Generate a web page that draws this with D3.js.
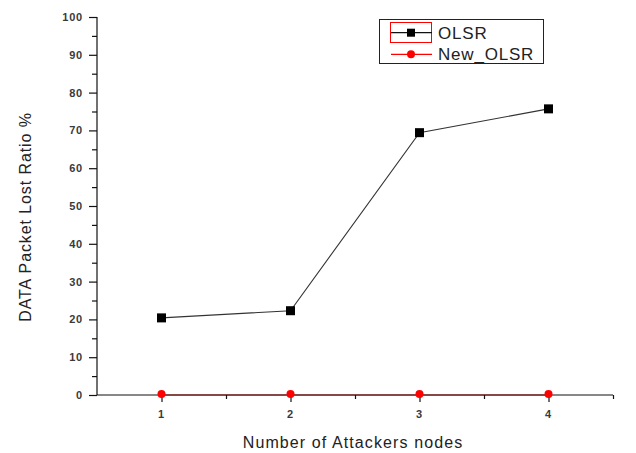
<!DOCTYPE html>
<html>
<head>
<meta charset="utf-8">
<script src="https://cdn.jsdelivr.net/npm/d3@7"></script>
<style>
  body { margin: 0; background: #fff; }
  svg { display: block; }
  text { font-family: "Liberation Sans", Arial, sans-serif; }
</style>
</head>
<body>
<svg id="chart" width="636" height="453"></svg>
<script>
const categories = [1, 2, 3, 4];
const olsrValues = [20.4, 22.3, 69.4, 75.7];
const newOlsrValues = [0, 0, 0, 0];
const yTickValues = [0, 10, 20, 30, 40, 50, 60, 70, 80, 90, 100];
const seriesNames = ["OLSR", "New_OLSR"];

const svg = d3.select("#chart");
const W = 636, H = 453;
svg.append("rect").attr("width", W).attr("height", H).attr("fill", "#fff");

const x = d3.scaleLinear().domain([0.5, 4.5]).range([97, 613]);
const y = d3.scaleLinear().domain([0, 100]).range([395, 17]);

const line = d3.line().x((d, i) => x(categories[i])).y(d => y(d));

svg.append("path").datum(olsrValues)
  .attr("fill", "none").attr("stroke", "#333").attr("stroke-width", 1.1)
  .attr("d", line);

svg.append("path").datum(newOlsrValues)
  .attr("fill", "none").attr("stroke", "#ff0000").attr("stroke-width", 1.2)
  .attr("d", line);

const yAxis = d3.axisLeft(y).tickValues(yTickValues).tickSize(8).tickPadding(6).tickFormat(d3.format("d"));
const yMinor = d3.axisLeft(y).tickValues(d3.range(5, 100, 10)).tickSize(5).tickFormat("");
const xAxis = d3.axisBottom(x).tickValues(categories).tickSize(7).tickPadding(8).tickFormat(d3.format("d"));
const xMinor = d3.axisBottom(x).tickValues([1.5, 2.5, 3.5, 4.5]).tickSize(4).tickFormat("");

function styleAxis(g) {
  g.select(".domain").attr("stroke", "#111").attr("stroke-width", 1.2);
  g.selectAll(".tick line").attr("stroke", "#111").attr("stroke-width", 1.2);
  g.selectAll(".tick text").attr("fill", "#3a3a3a")
    .attr("font-family", "'Liberation Sans', Arial, sans-serif")
    .attr("font-size", 11).attr("font-weight", "bold");
}

const gy = svg.append("g").attr("transform", "translate(97,0)").call(yAxis);
gy.select(".domain").attr("d", `M0,${y(100)}V${y(0)}`);
styleAxis(gy);
gy.selectAll(".tick text").attr("letter-spacing", "0.8px");
const gym = svg.append("g").attr("transform", "translate(97,0)").call(yMinor);
gym.select(".domain").remove();
styleAxis(gym);

const gx = svg.append("g").attr("transform", "translate(0,395)").call(xAxis);
gx.select(".domain").attr("d", `M${x(0.5)},0H${x(4.5)}`);
styleAxis(gx);
gx.selectAll(".tick text").attr("dx", "-1");
const gxm = svg.append("g").attr("transform", "translate(0,395)").call(xMinor);
gxm.select(".domain").remove();
styleAxis(gxm);

svg.append("g").selectAll("rect").data(olsrValues).join("rect")
  .attr("x", (d, i) => x(categories[i]) - 4.5)
  .attr("y", d => y(d) - 4.5)
  .attr("width", 9).attr("height", 9)
  .attr("fill", "#000");

svg.append("g").selectAll("circle").data(newOlsrValues).join("circle")
  .attr("cx", (d, i) => x(categories[i]))
  .attr("cy", d => y(d) - 1)
  .attr("r", 4)
  .attr("fill", "#ff0000");

svg.append("text")
  .attr("x", 353).attr("y", 448)
  .attr("text-anchor", "middle")
  .attr("font-size", 16).attr("letter-spacing", "1.1px")
  .attr("fill", "#222")
  .text("Number of Attackers nodes");

svg.append("text")
  .attr("transform", "translate(31,217) rotate(-90)")
  .attr("text-anchor", "middle")
  .attr("font-size", 16).attr("letter-spacing", "0.9px")
  .attr("fill", "#222")
  .text("DATA Packet Lost Ratio %");

const lg = svg.append("g");
lg.append("rect").attr("x", 379.5).attr("y", 19.5).attr("width", 164).attr("height", 44)
  .attr("fill", "#fff").attr("stroke", "#222").attr("stroke-width", 1);

const rows = [
  { name: seriesNames[0], color: "#000", lineColor: "#111", y: 32.7, shape: "square" },
  { name: seriesNames[1], color: "#ff0000", lineColor: "#ff0000", y: 54.3, shape: "circle" }
];
lg.append("rect").attr("x", 390.5).attr("y", 22.5).attr("width", 41).attr("height", 20)
  .attr("fill", "none").attr("stroke", "#ff0000").attr("stroke-width", 1);

rows.forEach(r => {
  lg.append("line").attr("x1", 391).attr("x2", 432).attr("y1", r.y).attr("y2", r.y)
    .attr("stroke", r.lineColor).attr("stroke-width", 1.2);
  if (r.shape === "square") {
    lg.append("rect").attr("x", 411 - 4).attr("y", r.y - 4).attr("width", 8).attr("height", 8).attr("fill", r.color);
  } else {
    lg.append("circle").attr("cx", 411).attr("cy", r.y).attr("r", 4).attr("fill", r.color);
  }
  lg.append("text").attr("x", 438).attr("y", r.y + 6)
    .attr("font-size", 17).attr("letter-spacing", "0.8px").attr("fill", "#222")
    .text(r.name);
});
</script>
</body>
</html>
